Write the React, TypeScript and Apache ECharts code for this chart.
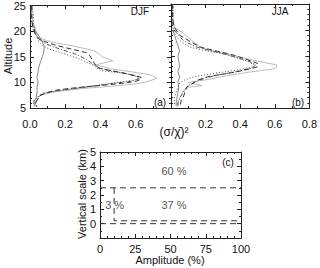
import React, { useEffect, useRef } from "react";
import * as echarts from "echarts";

// ---------- Panel (a) DJF : [altitude] and [value] arrays ----------
const aOuterAlt = [25, 23, 22, 20.5, 19.5, 18.7, 18.2, 17.7, 17, 16.2, 15.6, 15, 14.2, 13.4, 13, 12.7, 12.2, 11.5, 10.8, 10.2, 9.8, 9.3, 8.8, 8.4, 8.1, 7.6, 7.1, 6.5, 5.9, 5.3];
const aOuterVal = [0.01, 0.01, 0.015, 0.03, 0.04, 0.06, 0.09, 0.15, 0.26, 0.36, 0.39, 0.41, 0.47, 0.37, 0.42, 0.45, 0.55, 0.68, 0.72, 0.67, 0.62, 0.48, 0.3, 0.2, 0.13, 0.07, 0.04, 0.03, 0.02, 0.03];
const aDashAlt = [25, 22, 20.5, 19.5, 18.5, 18, 17.3, 16.7, 15.8, 15.2, 14, 12.9, 12.4, 12, 11.5, 11, 10.6, 10.2, 9.8, 9.4, 9, 8.5, 8, 7.5, 6.5, 5.8, 5.2];
const aDashVal = [0.01, 0.01, 0.02, 0.03, 0.05, 0.08, 0.14, 0.21, 0.32, 0.34, 0.36, 0.38, 0.44, 0.51, 0.57, 0.63, 0.63, 0.6, 0.52, 0.4, 0.27, 0.15, 0.1, 0.06, 0.04, 0.03, 0.04];
const aDotAlt = [25, 23, 21, 19.5, 18, 17.2, 16.5, 15.5, 14.6, 13.3, 12.3, 11.7, 11, 10.5, 10, 9.6, 9, 8.6, 8.2, 7.9, 7, 6.3, 5.5];
const aDotVal = [0.01, 0.02, 0.02, 0.03, 0.05, 0.07, 0.11, 0.2, 0.28, 0.36, 0.4, 0.55, 0.62, 0.6, 0.5, 0.42, 0.3, 0.21, 0.13, 0.07, 0.04, 0.02, 0.02];
const aDashDotAlt = [25, 22, 20, 18.5, 17.5, 16.5, 15.5, 14.5, 13.5, 12.7, 12, 11.3, 10.7, 10.2, 9.8, 9.3, 8.8, 8.4, 8, 7.5, 6.8, 6, 5.3];
const aDashDotVal = [0.01, 0.01, 0.02, 0.05, 0.09, 0.17, 0.26, 0.32, 0.36, 0.4, 0.5, 0.6, 0.62, 0.57, 0.47, 0.36, 0.25, 0.16, 0.09, 0.06, 0.04, 0.03, 0.03];
const aThinAlt = [21, 20, 19, 18, 17, 16.5, 15.5, 15, 14, 13, 12, 11, 10, 9, 8, 7, 6.3, 5.8, 5.3];
const aThinVal = [0.02, 0.03, 0.05, 0.07, 0.08, 0.08, 0.075, 0.07, 0.06, 0.05, 0.045, 0.04, 0.045, 0.04, 0.04, 0.035, 0.02, 0.03, 0.02];

// ---------- Panel (b) JJA ----------
const bOuterAlt = [25, 22, 20.5, 19.4, 18, 17, 16.2, 15.5, 14.8, 14, 13.3, 12.8, 12.5, 12.2, 11.9, 11.2, 10.4, 9.9, 9.3, 9.0, 8.2, 7.5, 7, 6, 5.3];
const bOuterVal = [0.01, 0.01, 0.02, 0.07, 0.12, 0.16, 0.2, 0.3, 0.4, 0.5, 0.61, 0.61, 0.59, 0.52, 0.45, 0.32, 0.2, 0.1, 0.18, 0.1, 0.07, 0.06, 0.05, 0.04, 0.04];
const bDashAlt = [25, 22, 20.5, 19.5, 19, 18, 16.7, 15.9, 15.2, 14.3, 13.6, 12.9, 12.4, 11.9, 11.4, 11, 10.3, 9.6, 9, 8, 7, 6.5, 5.2];
const bDashVal = [0.01, 0.01, 0.02, 0.04, 0.05, 0.1, 0.17, 0.27, 0.36, 0.44, 0.5, 0.5, 0.44, 0.37, 0.28, 0.21, 0.15, 0.12, 0.09, 0.08, 0.07, 0.06, 0.05];
const bDotAlt = [25, 22, 20.5, 19.4, 18, 16.7, 16, 15.5, 14.7, 13.9, 13.3, 12.9, 12.4, 11.9, 11.4, 11, 10.4, 9.8, 9, 8, 7, 5.5];
const bDotVal = [0.01, 0.01, 0.01, 0.02, 0.05, 0.11, 0.2, 0.3, 0.38, 0.45, 0.48, 0.47, 0.4, 0.3, 0.2, 0.13, 0.08, 0.05, 0.04, 0.03, 0.02, 0.02];
const bDashDotAlt = [25, 21, 19.5, 18, 16.8, 15.8, 14.8, 14, 13.3, 12.7, 12, 11.4, 10.8, 10, 9.3, 8.5, 7.5, 6.7, 6, 5.3];
const bDashDotVal = [0.01, 0.01, 0.03, 0.07, 0.14, 0.26, 0.37, 0.45, 0.49, 0.47, 0.38, 0.28, 0.2, 0.14, 0.1, 0.08, 0.06, 0.05, 0.04, 0.04];
const bThinAlt = [20, 19, 18, 17, 16, 15, 14, 13, 12, 11, 10, 9, 8, 7, 6, 5.3];
const bThinVal = [0.01, 0.02, 0.03, 0.04, 0.05, 0.04, 0.045, 0.05, 0.04, 0.05, 0.04, 0.045, 0.04, 0.035, 0.03, 0.03];

// ---------- Panel (c) ----------
const cUpperX = [0, 100];
const cUpperY = [2.5, 2.5];
const cZeroX = [0, 100];
const cZeroY = [0, 0];
const cBoxX = [10, 10, 100];
const cBoxY = [2.5, 0.2, 0.2];
const annotX = [52.5, 52.5, 10.4];
const annotY = [3.7, 1.3, 1.3];
const annotText = ["60 %", "37 %", "3 %"];

const FONT = "Liberation Sans, Arial, sans-serif";
const AX = "#222";

const zip = (vals: number[], alts: number[]) => vals.map((v, i) => [v, alts[i]]);

function lineSeries(xi: number, yi: number, data: number[][], color: string, type: any, width = 1) {
  return {
    type: "line",
    xAxisIndex: xi,
    yAxisIndex: yi,
    data,
    symbol: "none",
    silent: true,
    lineStyle: { color, width, type },
  };
}

function baseAxis(extra: any) {
  return {
    type: "value",
    axisLine: { show: true, onZero: false, lineStyle: { color: AX, width: 1 } },
    splitLine: { show: false },
    axisTick: { show: true, inside: true, length: 4, lineStyle: { color: AX } },
    minorTick: { show: true, length: 2, lineStyle: { color: AX } },
    axisLabel: { color: "#111", fontFamily: FONT, fontSize: 11 },
    ...extra,
  };
}

export default function App() {
  const ref = useRef<HTMLDivElement>(null);
  useEffect(() => {
    if (!ref.current) return;
    const chart = echarts.init(ref.current, undefined, { renderer: "svg" });
    const xFmt1 = (v: number) => (Math.abs(v - 0.8) < 1e-6 ? "" : v.toFixed(1));
    const xFmt2 = (v: number) => (Math.abs(v) < 1e-6 ? "" : v.toFixed(1));
    const option: any = {
      animation: false,
      backgroundColor: "#fff",
      grid: [
        { left: 30, top: 4, width: 141, height: 104 },
        { left: 171, top: 4, width: 139, height: 104 },
        { left: 100, top: 152, width: 141, height: 86 },
      ],
      xAxis: [
        baseAxis({ gridIndex: 0, min: 0, max: 0.8, interval: 0.2, minorTick: { show: true, splitNumber: 2, length: 2, lineStyle: { color: AX } }, axisLabel: { color: "#111", fontFamily: FONT, fontSize: 11, margin: 10, formatter: xFmt1 } }),
        baseAxis({ gridIndex: 1, min: 0, max: 0.8, interval: 0.2, minorTick: { show: true, splitNumber: 2, length: 2, lineStyle: { color: AX } }, axisLabel: { color: "#111", fontFamily: FONT, fontSize: 11, margin: 10, formatter: xFmt2 } }),
        baseAxis({ gridIndex: 2, min: 0, max: 100, interval: 25, minorTick: { show: true, splitNumber: 5, length: 2, lineStyle: { color: AX } }, axisLabel: { color: "#111", fontFamily: FONT, fontSize: 11, margin: 5 } }),
        baseAxis({ gridIndex: 0, position: "top", min: 0, max: 0.8, interval: 0.2, minorTick: { show: true, splitNumber: 2, length: 2, lineStyle: { color: AX } }, axisLabel: { show: false } }),
        baseAxis({ gridIndex: 1, position: "top", min: 0, max: 0.8, interval: 0.2, minorTick: { show: true, splitNumber: 2, length: 2, lineStyle: { color: AX } }, axisLabel: { show: false } }),
        baseAxis({ gridIndex: 2, position: "top", min: 0, max: 100, interval: 25, minorTick: { show: true, splitNumber: 5, length: 2, lineStyle: { color: AX } }, axisLabel: { show: false } }),
      ],
      yAxis: [
        baseAxis({ gridIndex: 0, min: 5, max: 25, interval: 5, minorTick: { show: true, splitNumber: 5, length: 2, lineStyle: { color: AX } }, axisLabel: { color: "#111", fontFamily: FONT, fontSize: 11, margin: 4 } }),
        baseAxis({ gridIndex: 1, min: 5, max: 25, interval: 5, minorTick: { show: true, splitNumber: 5, length: 2, lineStyle: { color: AX } }, axisLabel: { show: false } }),
        baseAxis({ gridIndex: 2, min: -1, max: 5, interval: 1, minorTick: { show: true, splitNumber: 2, length: 2, lineStyle: { color: AX } }, axisLabel: { color: "#111", fontFamily: FONT, fontSize: 11, margin: 4, formatter: (v: number) => (v < 0 ? "" : String(v)) } }),
        baseAxis({ gridIndex: 0, position: "right", min: 5, max: 25, interval: 5, minorTick: { show: true, splitNumber: 5, length: 2, lineStyle: { color: AX } }, axisLabel: { show: false } }),
        baseAxis({ gridIndex: 1, position: "right", min: 5, max: 25, interval: 5, minorTick: { show: true, splitNumber: 5, length: 2, lineStyle: { color: AX } }, axisLabel: { show: false } }),
        baseAxis({ gridIndex: 2, position: "right", min: -1, max: 5, interval: 1, minorTick: { show: true, splitNumber: 2, length: 2, lineStyle: { color: AX } }, axisLabel: { show: false } }),
      ],
      series: [
        lineSeries(0, 0, zip(aOuterVal, aOuterAlt), "#bcbcbc", "solid"),
        lineSeries(0, 0, zip(aThinVal, aThinAlt), "#8a8a8a", "solid"),
        lineSeries(0, 0, zip(aDotVal, aDotAlt), "#555", [1, 2]),
        lineSeries(0, 0, zip(aDashDotVal, aDashDotAlt), "#555", [4, 2, 1, 2]),
        lineSeries(0, 0, zip(aDashVal, aDashAlt), "#333", [5, 3]),
        lineSeries(1, 1, zip(bOuterVal, bOuterAlt), "#bcbcbc", "solid"),
        lineSeries(1, 1, zip(bThinVal, bThinAlt), "#8a8a8a", "solid"),
        lineSeries(1, 1, zip(bDotVal, bDotAlt), "#555", [1, 2]),
        lineSeries(1, 1, zip(bDashDotVal, bDashDotAlt), "#555", [4, 2, 1, 2]),
        lineSeries(1, 1, zip(bDashVal, bDashAlt), "#333", [5, 3]),
        lineSeries(2, 2, zip(cUpperX, cUpperY), "#333", [6, 4]),
        lineSeries(2, 2, zip(cZeroX, cZeroY), "#333", [6, 4]),
        lineSeries(2, 2, zip(cBoxX, cBoxY), "#333", [6, 4]),
        {
          type: "scatter",
          xAxisIndex: 2,
          yAxisIndex: 2,
          symbolSize: 0,
          silent: true,
          data: annotX.map((x, i) => ({ value: [x, annotY[i]], name: annotText[i] })),
          label: {
            show: true,
            position: "inside",
            formatter: (p: any) => p.name,
            color: "#222",
            fontFamily: FONT,
            fontSize: 11,
          },
        },
      ],
      graphic: [
        { type: "text", x: 8, y: 56, rotation: Math.PI / 2, style: { text: "Altitude", fontFamily: FONT, fontSize: 11, fill: "#111", align: "center", verticalAlign: "middle" } },
        { type: "text", x: 174, y: 132, style: { text: "(σ/χ̄)²", fontFamily: FONT, fontSize: 12, fill: "#111", align: "center", verticalAlign: "middle" } },
        { type: "text", x: 82, y: 194, rotation: Math.PI / 2, style: { text: "Vertical scale (km)", fontFamily: FONT, fontSize: 11, fill: "#111", align: "center", verticalAlign: "middle" } },
        { type: "text", x: 170, y: 260, style: { text: "Amplitude (%)", fontFamily: FONT, fontSize: 11, fill: "#111", align: "center", verticalAlign: "middle" } },
        { type: "text", x: 140, y: 11, style: { text: "DJF", fontFamily: FONT, fontSize: 10, fill: "#111", align: "center", verticalAlign: "middle" } },
        { type: "text", x: 280, y: 11, style: { text: "JJA", fontFamily: FONT, fontSize: 10, fill: "#111", align: "center", verticalAlign: "middle" } },
        { type: "text", x: 160, y: 102, style: { text: "(a)", fontFamily: FONT, fontSize: 10, fill: "#111", align: "center", verticalAlign: "middle" } },
        { type: "text", x: 298, y: 102, style: { text: "(b)", fontFamily: FONT, fontSize: 10, fill: "#111", align: "center", verticalAlign: "middle" } },
        { type: "text", x: 228, y: 162, style: { text: "(c)", fontFamily: FONT, fontSize: 10, fill: "#111", align: "center", verticalAlign: "middle" } },
      ],
    };
    chart.setOption(option);
    return () => chart.dispose();
  }, []);
  return <div ref={ref} style={{ position: "absolute", left: 0, top: 0, width: 320, height: 268 }} />;
}
